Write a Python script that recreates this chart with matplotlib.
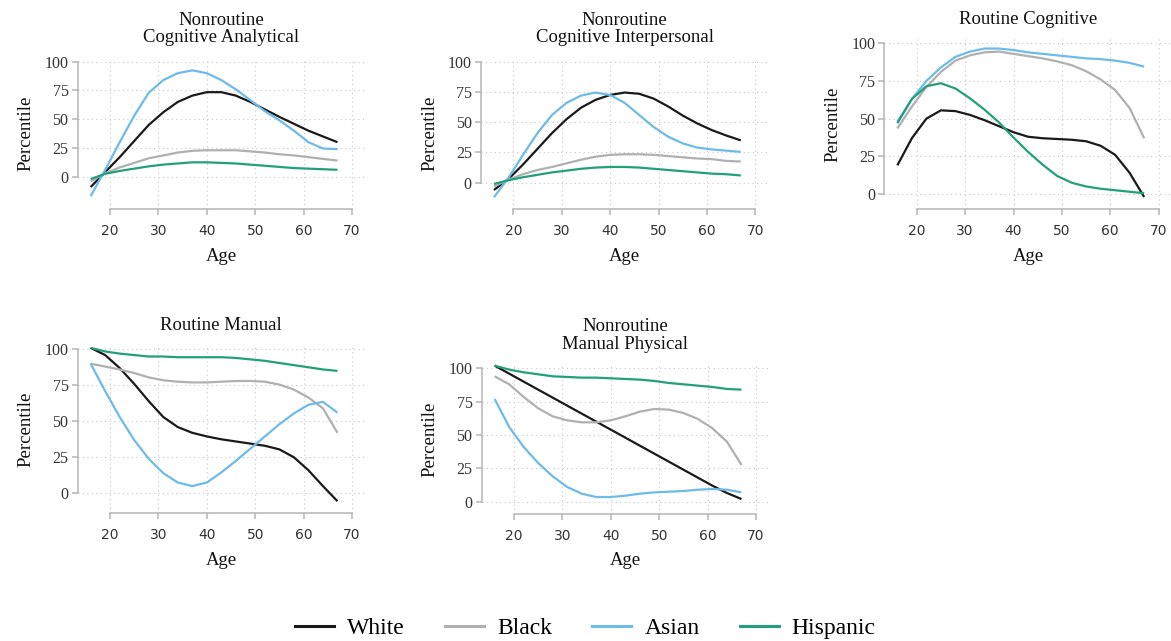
import numpy as np
import matplotlib.pyplot as plt
from matplotlib.lines import Line2D

plt.rcParams['font.family'] = ['Liberation Serif', 'DejaVu Serif']

ages = [16, 19, 22, 25, 28, 31, 34, 37, 40, 43, 46, 49, 52, 55, 58, 61, 64, 67]
groups = ['White', 'Black', 'Asian', 'Hispanic']
colors = ['#1a1a1a', '#b0b0b0', '#6cbbe9', '#22a07b']

analytical = {
    'White':    [-9, 4, 17, 31, 45, 56, 65, 70.5, 73.5, 73.5, 70.5, 65, 58.5, 52, 46, 40, 35, 30],
    'Black':    [-4, 3, 8, 12, 16, 18.5, 21, 22.5, 23, 23, 23, 22, 21, 19.5, 18.5, 17, 15.5, 14],
    'Asian':    [-17, 6, 30, 53, 73, 84, 90, 92.5, 90, 84, 76, 66.5, 57, 49, 40, 30, 24.5, 24],
    'Hispanic': [-2, 2.5, 5, 7, 9, 10.5, 11.5, 12.5, 12.5, 12, 11.5, 10.5, 9.5, 8.5, 7.5, 7, 6.5, 6],
}
interpersonal = {
    'White':    [-6, 3, 15, 28, 41, 52.5, 62, 68.5, 72.5, 74.5, 73.5, 69.5, 63, 55.5, 49, 43.5, 39, 35],
    'Black':    [-3, 2.5, 7, 10.5, 13, 16, 19, 21.5, 23, 23.5, 23.5, 23, 22, 21, 20, 19.5, 18, 17.5],
    'Asian':    [-12, 4, 23, 41, 56, 66, 72, 74.5, 72.5, 66, 56, 46, 38, 32.5, 29, 27.5, 26.5, 25.5],
    'Hispanic': [-1, 2, 4.5, 6.5, 8.5, 10, 11.5, 12.5, 13, 13, 12.5, 11.5, 10.5, 9.5, 8.5, 7.5, 7, 6],
}
routine_cog = {
    'White':    [19, 37, 50, 55.5, 55, 52.5, 49, 45, 41, 38, 37, 36.5, 36, 35, 32, 26, 14, -2],
    'Black':    [43.5, 58, 71, 81, 88.5, 92, 94, 94.5, 93, 91.5, 90, 88, 85.5, 81.5, 76, 69, 57, 37],
    'Asian':    [48, 63, 75, 84, 91, 94.5, 96.5, 96.5, 95.5, 94, 93, 92, 91, 90, 89.5, 88.5, 87, 84.5],
    'Hispanic': [47, 63, 71.5, 73.5, 70, 63.5, 56, 47.5, 37.5, 28, 19.5, 12, 7.5, 5, 3.5, 2.5, 1.5, 0.5],
}
routine_man = {
    'White':    [101, 96, 87, 76, 64, 53, 46, 42, 39.5, 37.5, 36, 34.5, 33, 30.5, 25, 16, 5, -5.5],
    'Black':    [90, 88, 86, 83.5, 80.5, 78.5, 77.5, 77, 77, 77.5, 78, 78, 77.5, 75.5, 72, 66.5, 59, 42],
    'Asian':    [90, 71, 53, 37, 24, 14, 7.5, 5, 7.5, 14.5, 22.5, 31, 39.5, 48, 55.5, 61.5, 63.5, 56],
    'Hispanic': [101, 98.5, 97, 96, 95, 95, 94.5, 94.5, 94.5, 94.5, 94, 93, 92, 90.5, 89, 87.5, 86, 85],
}
manual_phys = {
    'White':    [102, 96, 90, 84, 78, 72, 66, 60, 54, 48, 42, 36, 30, 24, 18, 12, 6.5, 2],
    'Black':    [94, 88, 78.5, 70, 64, 61, 59.5, 59.5, 61, 64, 67.5, 69.5, 69, 66.5, 62, 55, 45, 27.5],
    'Asian':    [77, 56, 41, 29, 19, 11, 6, 3.5, 3.5, 4.5, 6, 7, 7.5, 8, 9, 9.5, 9, 7],
    'Hispanic': [102, 99, 97, 95.5, 94, 93.5, 93, 93, 92.5, 92, 91.5, 90.5, 89, 88, 87, 86, 84.5, 84],
}

panels = [analytical, interpersonal, routine_cog, routine_man, manual_phys]
titles = ['Nonroutine\nCognitive Analytical', 'Nonroutine\nCognitive Interpersonal',
          'Routine Cognitive', 'Routine Manual', 'Nonroutine\nManual Physical']

# pixel anchors: x of age 20, y of x-axis line, y of 0, y of 100
anchors = [(110, 209.3, 176.7, 61.7), (513.3, 209.3, 182.7, 61.7),
           (916.7, 209.3, 194, 43.3), (110, 513.3, 493.3, 349.3),
           (514, 514, 501.7, 368.3)]

W, H = 1171, 641
fig = plt.figure(figsize=(W / 100, H / 100), dpi=100)
xlo, xhi = 13.3, 72.7
ppx = 4.84

for data, title, (x20, xaxis, y0, y100) in zip(panels, titles, anchors):
    left = x20 - (20 - xlo) * ppx
    width = (xhi - xlo) * ppx
    ppu = (y0 - y100) / 100
    top = y100 - 4
    ax = fig.add_axes([left / W, 1 - xaxis / H, width / W, (xaxis - top) / H])
    ax.set_xlim(xlo, xhi)
    ax.set_ylim(-(xaxis - y0) / ppu, 100 + 4 / ppu)

    for g, c in zip(groups, colors):
        ax.plot(ages, data[g], color=c, lw=1.6, solid_joinstyle='round',
                solid_capstyle='butt')

    ax.set_xticks(np.arange(20, 71, 10))
    ax.set_yticks(np.arange(0, 101, 25))
    ax.set_axisbelow(True)
    ax.grid(True, color='#c8c8c8', linestyle=(0, (1, 3)), lw=0.8)
    for s in ['top', 'right']:
        ax.spines[s].set_visible(False)
    ax.spines['left'].set_bounds(0, 100)
    ax.spines['bottom'].set_bounds(20, 70)
    for s in ['left', 'bottom']:
        ax.spines[s].set_color('#b5b5b5')
        ax.spines[s].set_linewidth(1.1)
    ax.tick_params(colors='#b5b5b5', labelcolor='#333333', length=4.5,
                   width=1.1)
    ax.tick_params(axis='y', labelsize=11.5, pad=2)
    ax.tick_params(axis='x', labelsize=10, pad=6)
    for lab in ax.get_xticklabels():
        lab.set_family('DejaVu Sans')
    ax.set_title(title, fontsize=13.5, pad=11, color='#111111', linespacing=1.05)
    ax.set_xlabel('Age', fontsize=13.5, labelpad=7, color='#111111')
    ax.set_ylabel('Percentile', fontsize=13.5, labelpad=7, color='#111111')

handles = [Line2D([], [], color=c, lw=2.2) for c in colors]
fig.legend(handles, groups, loc='center', bbox_to_anchor=(0.5, 1 - 628 / H),
           ncol=4, frameon=False, fontsize=17, handlelength=1.65,
           handletextpad=0.55, columnspacing=1.7, borderpad=0.2)

fig.savefig('out.png', dpi=100)
